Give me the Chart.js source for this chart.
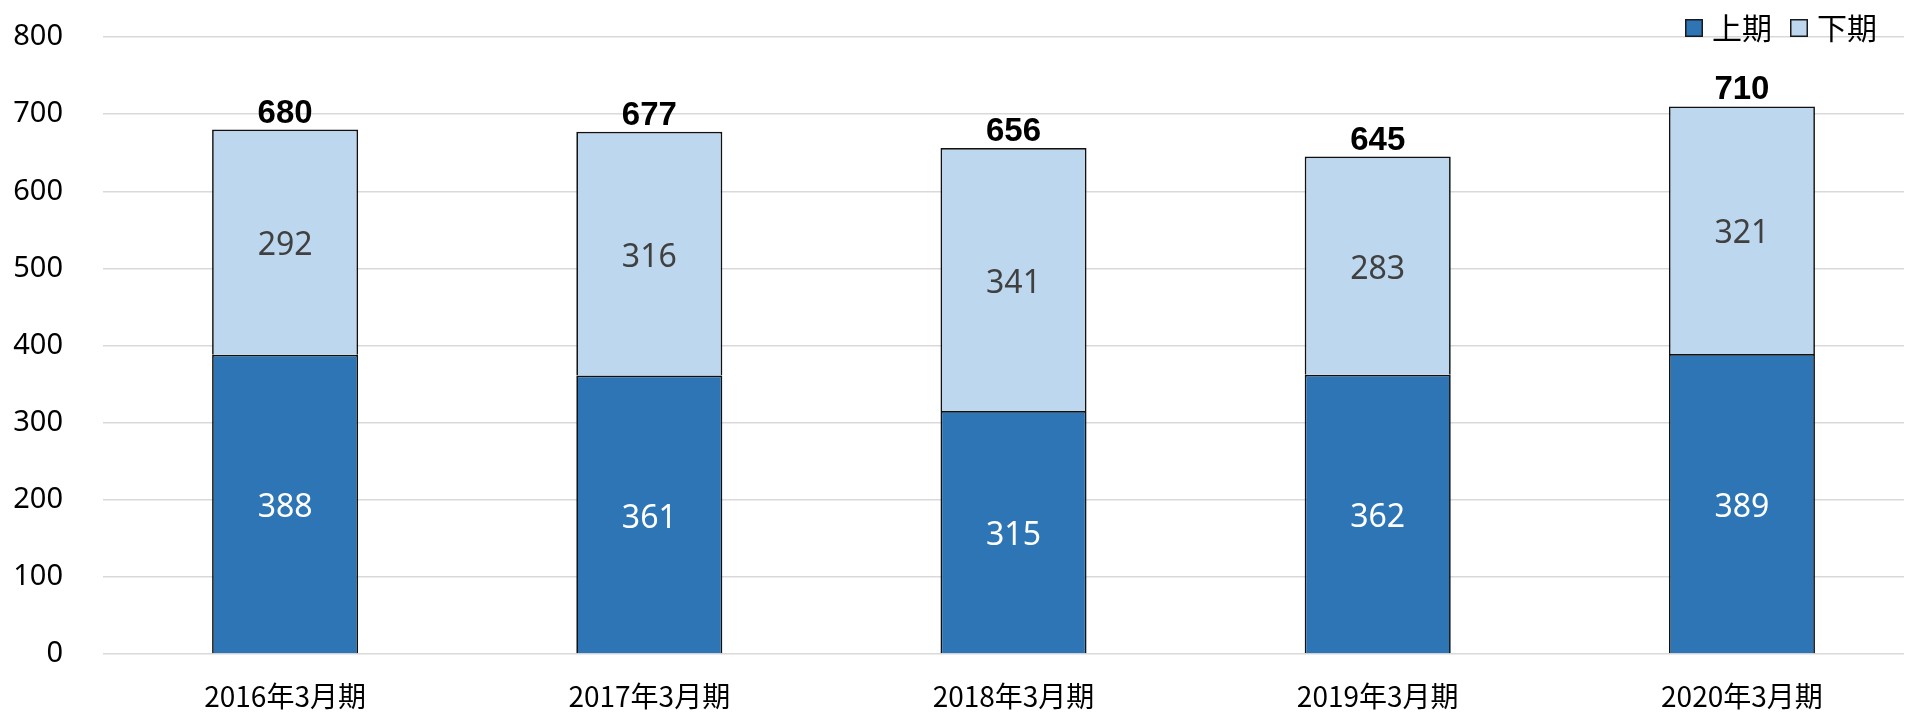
<!DOCTYPE html>
<html><head><meta charset="utf-8">
<script src="https://cdn.jsdelivr.net/npm/chart.js@4/dist/chart.umd.min.js"></script>
<style>html,body{margin:0;padding:0;background:#fff;overflow:hidden}#wrap{width:1907px;height:712px;position:relative}</style>
</head><body><div id="wrap"><canvas id="c"></canvas></div>
<script>
const categories = ['2016年3月期','2017年3月期','2018年3月期','2019年3月期','2020年3月期'];
const seriesNames = ['上期','下期'];
const firstHalf = [388, 361, 315, 362, 389];
const secondHalf = [292, 316, 341, 283, 321];
const totals = [680, 677, 656, 645, 710];
const yTicks = [0, 100, 200, 300, 400, 500, 600, 700, 800];

const NUM_FONT = '"Noto Sans", "Noto Sans CJK JP", sans-serif';
const CJK_FONT = '"Noto Sans CJK JP", "Noto Sans", sans-serif';

const labelPlugin = {
  id: 'valueLabels',
  afterDatasetsDraw(chart) {
    const ctx = chart.ctx;
    ctx.save();
    ctx.textAlign = 'center';
    ctx.textBaseline = 'middle';
    ctx.font = '32px ' + NUM_FONT;
    chart.data.datasets.forEach((ds, di) => {
      const meta = chart.getDatasetMeta(di);
      ctx.fillStyle = di === 0 ? '#ffffff' : '#404040';
      meta.data.forEach((el, i) => {
        ctx.fillText(String(ds.data[i].y), el.x, (el.y + el.base) / 2 + 4);
      });
    });
    const topMeta = chart.getDatasetMeta(chart.data.datasets.length - 1);
    ctx.font = 'bold 33px "Liberation Sans", Arial, sans-serif';
    ctx.fillStyle = '#000';
    ctx.textBaseline = 'alphabetic';
    topMeta.data.forEach((el, i) => {
      ctx.fillText(String(totals[i]), el.x, el.y - 7);
    });
    ctx.restore();
  }
};

// legend drawn from the datasets' own labels and colours
const legendPlugin = {
  id: 'topRightLegend',
  afterDraw(chart) {
    const ctx = chart.ctx;
    ctx.save();
    ctx.font = '30px ' + CJK_FONT;
    ctx.textBaseline = 'middle';
    ctx.textAlign = 'left';
    const box = 18, gap = 9, itemGap = 18, rightEdge = 1877, cy = 28;
    const items = chart.data.datasets.map(ds => ({ds, w: ctx.measureText(ds.label).width}));
    let total = items.reduce((s, it) => s + box + gap + it.w, 0) + itemGap * (items.length - 1);
    let x = rightEdge - total;
    items.forEach(({ds, w}) => {
      ctx.fillStyle = ds.backgroundColor;
      ctx.fillRect(x, cy - box / 2, box, box);
      ctx.strokeStyle = '#1a1a1a';
      ctx.lineWidth = 1.5;
      ctx.strokeRect(x + 0.75, cy - box / 2 + 0.75, box - 1.5, box - 1.5);
      ctx.fillStyle = '#000';
      ctx.fillText(ds.label, x + box + gap, cy);
      x += box + gap + w + itemGap;
    });
    ctx.restore();
  }
};

new Chart(document.getElementById('c'), {
  type: 'bar',
  data: {
    datasets: [
      {
        label: seriesNames[0],
        data: firstHalf.map((v, i) => ({x: i, y: v})),
        backgroundColor: '#2E75B6',
        borderColor: '#111111',
        borderWidth: 1.7,
        barPercentage: 0.401,
        categoryPercentage: 1
      },
      {
        label: seriesNames[1],
        data: secondHalf.map((v, i) => ({x: i, y: v})),
        backgroundColor: '#BDD7EE',
        borderColor: '#111111',
        borderWidth: 1.7,
        barPercentage: 0.401,
        categoryPercentage: 1
      }
    ]
  },
  options: {
    responsive: true,
    maintainAspectRatio: false,
    animation: false,
    layout: {padding: {top: 37, right: 3, left: 0, bottom: 0}},
    plugins: {
      tooltip: {enabled: false},
      legend: {display: false}
    },
    scales: {
      x: {
        type: 'linear',
        stacked: true,
        min: -0.5,
        max: 4.445,
        offset: false,
        grid: {display: false},
        border: {display: false},
        afterBuildTicks(scale) { scale.ticks = categories.map((_, i) => ({value: i})); },
        afterFit(scale) { scale.height = 58; scale.paddingLeft = 0; scale.paddingRight = 0; },
        ticks: {
          autoSkip: false,
          maxRotation: 0,
          padding: 18,
          color: '#000',
          font: {size: 28, family: CJK_FONT},
          callback: (v) => categories[v]
        }
      },
      y: {
        stacked: true,
        min: 0,
        max: 800,
        afterBuildTicks(scale) { scale.ticks = yTicks.map(v => ({value: v})); },
        afterFit(scale) { scale.width = 103; scale.paddingTop = 0; scale.paddingBottom = 0; },
        grid: {color: '#d9d9d9', lineWidth: 1.5, drawTicks: false},
        border: {display: false},
        ticks: {
          padding: 40,
          color: '#000',
          font: {size: 29, family: NUM_FONT}
        }
      }
    }
  },
  plugins: [labelPlugin, legendPlugin]
});
</script>
</body></html>
